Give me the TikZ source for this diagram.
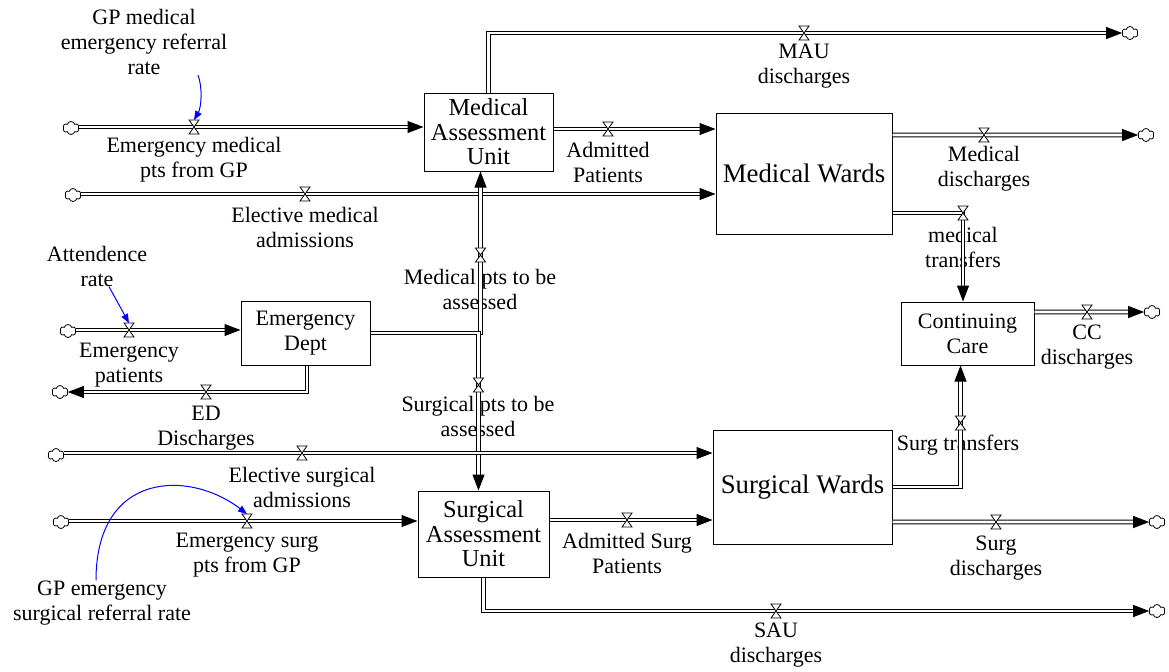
\documentclass[tikz,border=0pt]{standalone}
\usepackage{fontspec}
\setmainfont{Liberation Serif}
\usetikzlibrary{arrows.meta,shapes.symbols}

\begin{document}
\begin{tikzpicture}[x=0.5pt, y=-0.5pt,
  stock/.style={draw, line width=0.5pt, inner sep=0pt, align=center, font=\fontsize{11}{12.5}\selectfont},
  big/.style={font=\fontsize{12.2}{12.2}\selectfont},
  ward/.style={font=\fontsize{13.4}{14}\selectfont},
  lbl/.style={align=center, inner sep=0pt, font=\fontsize{11}{12.5}\selectfont},
  pipe/.style={draw, line width=0.5pt, double=white, double distance=1.3pt, -{Triangle[length=8pt, width=6pt]}},
  link/.style={draw=blue, line width=0.5pt, -{Triangle[length=4.5pt, width=3.5pt]}},
  sky/.style={cloud, draw, cloud puffs=6, cloud puff arc=150, aspect=1.2, minimum width=8pt, minimum height=6.5pt, inner sep=0pt, line width=0.4pt},
  valve/.pic={\draw[line width=0.4pt, fill=white] (-5,-7) -- (5,-7) -- (-5,7) -- (5,7) -- cycle; \coordinate (-top) at (0,-7);}
]
\useasboundingbox (0,0) rectangle (1169,671);

% stocks
\node[stock, big, minimum width=64.5pt, minimum height=39pt] (mau) at (488.5,132) {Medical\\Assessment\\Unit};
\node[stock, ward, minimum width=88pt, minimum height=60.5pt] (medw) at (804,173.5) {Medical Wards};
\node[stock, minimum width=64.5pt, minimum height=32pt] (ed) at (305.5,333) {Emergency\\Dept};
\node[stock, minimum width=66.5pt, minimum height=31.5pt] (cc) at (967.5,333.5) {Continuing\\Care};
\node[stock, big, minimum width=65.5pt, minimum height=43pt] (sau) at (483.5,534) {Surgical\\Assessment\\Unit};
\node[stock, ward, minimum width=89.5pt, minimum height=57pt] (surgw) at (802.5,487) {Surgical Wards};

% sources and sinks
\node[sky] (cgp) at (71,128) {};
\node[sky] (celm) at (73,195) {};
\node[sky] (cemg) at (68,331) {};
\node[sky] (ced) at (60,392) {};
\node[sky] (cels) at (56,455) {};
\node[sky] (csgp) at (61,522) {};
\node[sky] (cmau) at (1130,33) {};
\node[sky] (cmed) at (1146,135) {};
\node[sky] (ccc) at (1152,312) {};
\node[sky] (csurg) at (1157,522) {};
\node[sky] (csau) at (1157,611) {};

% flow names
\node[lbl] (lgp) at (144,42) {GP medical\\emergency referral\\rate};
\node[lbl] (lemgp) at (194,160) {Emergency medical\\pts from GP};
\node[lbl] (lelm) at (305,227) {Elective medical\\admissions};
\node[lbl] (ladm) at (608,162) {Admitted\\Patients};
\node[lbl] (lmau) at (804,66) {MAU\\discharges};
\node[lbl] (lmed) at (984,169) {Medical\\discharges};
\node[lbl] (lmtr) at (963,247) {medical\\transfers};
\node[lbl] (latt) at (97,266) {Attendence\\rate};
\node[lbl] (lemg) at (129,365) {Emergency\\patients};
\node[lbl] (led) at (206,428) {ED\\Discharges};
\node[lbl] (lmpa) at (480,289) {Medical pts to be\\assessed};
\node[lbl] (lspa) at (478,416) {Surgical pts to be\\assessed};
\node[lbl] (lels) at (302,487) {Elective surgical\\admissions};
\node[lbl] (lsgp) at (247,555) {Emergency surg\\pts from GP};
\node[lbl] (lgps) at (102,603) {GP emergency\\surgical referral rate};
\node[lbl] (lads) at (627,553) {Admitted Surg\\Patients};
\node[lbl] (lsd) at (996,558) {Surg\\discharges};
\node[lbl] (lst) at (958,445) {Surg transfers};
\node[lbl] (lsau) at (776,645) {SAU\\discharges};
\node[lbl] (lcc) at (1087,347) {CC\\discharges};

% pipes
\draw[pipe] (cgp.east |- 0,127) -- (mau.west |- 0,127);
\draw[pipe] (celm.east |- 0,194) -- (medw.west |- 0,194);
\draw[pipe] (mau.east |- 0,129) -- (medw.west |- 0,129);
\draw[pipe] (mau.north) |- (cmau.west);
\draw[pipe] (medw.east |- cmed) -- (cmed.west);
\draw[pipe] (medw.east |- 0,213) -| ([xshift=-2.25pt]cc.north);
\draw[pipe] (cemg.east |- 0,330) -- (ed.west |- 0,330);
\draw[pipe] ([xshift=0.75pt]ed.south) |- (ced.east);
\draw[pipe] (ed.east) -| ([xshift=-4pt]mau.south);
\draw[pipe] (ed.east) -| ([xshift=-2.5pt]sau.north);
\draw[pipe] (cels.east |- 0,453) -- (surgw.west |- 0,453);
\draw[pipe] (csgp.east |- 0,521) -- (sau.west |- 0,521);
\draw[pipe] (sau.east |- 0,520) -- (surgw.west |- 0,520);
\draw[pipe] (surgw.east |- csurg) -- (csurg.west);
\draw[pipe] (surgw.east |- 0,487) -| ([xshift=-3.5pt]cc.south);
\draw[pipe] (sau.south) |- (csau.west);
\draw[pipe] (cc.east |- ccc) -- (ccc.west);

% valves
\pic (vgp) at (194,127) {valve};
\pic at (305,194) {valve};
\pic at (608,129) {valve};
\pic at (804,33) {valve};
\pic at (984,135) {valve};
\pic at (963,213) {valve};
\pic (vatt) at (129,330) {valve};
\pic at (206,392) {valve};
\pic at (480.5,255) {valve};
\pic at (478.5,385) {valve};
\pic at (302,453) {valve};
\pic (vsgp) at (247,521) {valve};
\pic at (627,520) {valve};
\pic at (996,522) {valve};
\pic at (960.5,423) {valve};
\pic at (776,611) {valve};
\pic at (1087,312) {valve};

% rate links
\draw[link] ([xshift=27pt]lgp.south) .. controls +(5,13) and +(7,-12) .. (vgp-top);
\draw[link] ([xshift=6pt]latt.south) -- (vatt-top);
\draw[link] ([xshift=-3pt]lgps.north) .. controls +(0,-110) and +(-57,-44) .. (vsgp-top);
\end{tikzpicture}
\end{document}
